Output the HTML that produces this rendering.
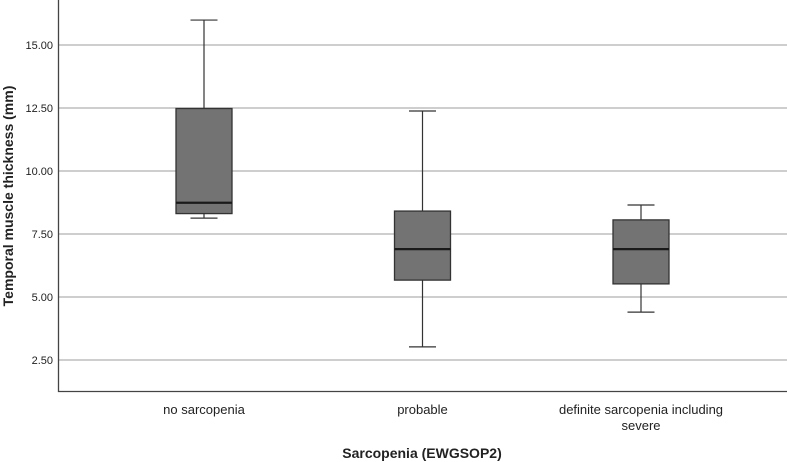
<!DOCTYPE html>
<html><head><meta charset="utf-8"><style>
html,body{margin:0;padding:0;background:#fff}
svg{display:block;font-family:"Liberation Sans",Arial,sans-serif}
</style></head><body>
<svg id="chart" width="787" height="462" viewBox="0 0 787 462">
<g id="grid"></g>
<g id="yaxis"></g>
<g id="boxes"></g>
<g id="xlabels"></g>
<text x="0" y="0" transform="translate(13,196) rotate(-90)" text-anchor="middle" font-size="14" font-weight="bold" fill="#222">Temporal muscle thickness (mm)</text>
<text x="422" y="458" text-anchor="middle" font-size="14" font-weight="bold" fill="#222">Sarcopenia (EWGSOP2)</text>
</svg>
<script>
const categories = [["no sarcopenia"], ["probable"], ["definite sarcopenia including", "severe"]];
const whiskerLow = [8.13, 3.02, 4.40];
const q1 = [8.31, 5.67, 5.52];
const median = [8.74, 6.90, 6.90];
const q3 = [12.48, 8.41, 8.06];
const whiskerHigh = [15.99, 12.38, 8.65];
const yTicks = [2.5, 5, 7.5, 10, 12.5, 15];
const yTickLabels = ["2.50", "5.00", "7.50", "10.00", "12.50", "15.00"];

const NS = "http://www.w3.org/2000/svg";
const left = 58.5, right = 787, bottom = 391.5;
function y(v){ return 45 + (15 - v) * 25.2; }
function x(i){ return 204 + i * 218.5; }
function mk(tag, attrs, parent){ const e = document.createElementNS(NS, tag); for (const k in attrs) e.setAttribute(k, attrs[k]); parent.appendChild(e); return e; }

const grid = document.getElementById('grid');
const yaxis = document.getElementById('yaxis');
yTicks.forEach((t, i) => {
  const l = mk('line', {x1: left, x2: right, y1: y(t), y2: y(t), stroke: '#b0b0b0', 'stroke-width': 1.3}, grid);
  
  
  const tx = mk('text', {x: 53, y: y(t) + 4, 'text-anchor': 'end', 'font-size': 11, fill: '#222'}, yaxis);
  tx.textContent = yTickLabels[i];
  
  
});
const ax = mk('polyline', {points: `${left},0 ${left},${bottom} ${right},${bottom}`, fill: 'none', stroke: '#444', 'stroke-width': 1.3}, yaxis);



const boxes = document.getElementById('boxes');
const xl = document.getElementById('xlabels');
categories.forEach((c, i) => {
  const cx = x(i), hw = 28, cw = 13.5;
  const g = mk('g', {}, boxes);
  
  
  const s = {stroke: '#333', 'stroke-width': 1.2};
  mk('line', Object.assign({x1: cx, x2: cx, y1: y(whiskerHigh[i]), y2: y(q3[i])}, s), g);
  mk('line', Object.assign({x1: cx, x2: cx, y1: y(q1[i]), y2: y(whiskerLow[i])}, s), g);
  mk('line', Object.assign({x1: cx - cw, x2: cx + cw, y1: y(whiskerHigh[i]), y2: y(whiskerHigh[i])}, s), g);
  mk('line', Object.assign({x1: cx - cw, x2: cx + cw, y1: y(whiskerLow[i]), y2: y(whiskerLow[i])}, s), g);
  mk('rect', {x: cx - hw, y: y(q3[i]), width: 2 * hw, height: y(q1[i]) - y(q3[i]), fill: '#737373', stroke: '#333', 'stroke-width': 1.3}, g);
  mk('line', {x1: cx - hw, x2: cx + hw, y1: y(median[i]), y2: y(median[i]), stroke: '#1a1a1a', 'stroke-width': 2.2}, g);
  c.forEach((line, j) => {
    const t = mk('text', {x: cx, y: 414 + j * 16, 'text-anchor': 'middle', 'font-size': 13, fill: '#222'}, xl);
    t.textContent = line;
    
    
  });
});
</script>
</body></html>
